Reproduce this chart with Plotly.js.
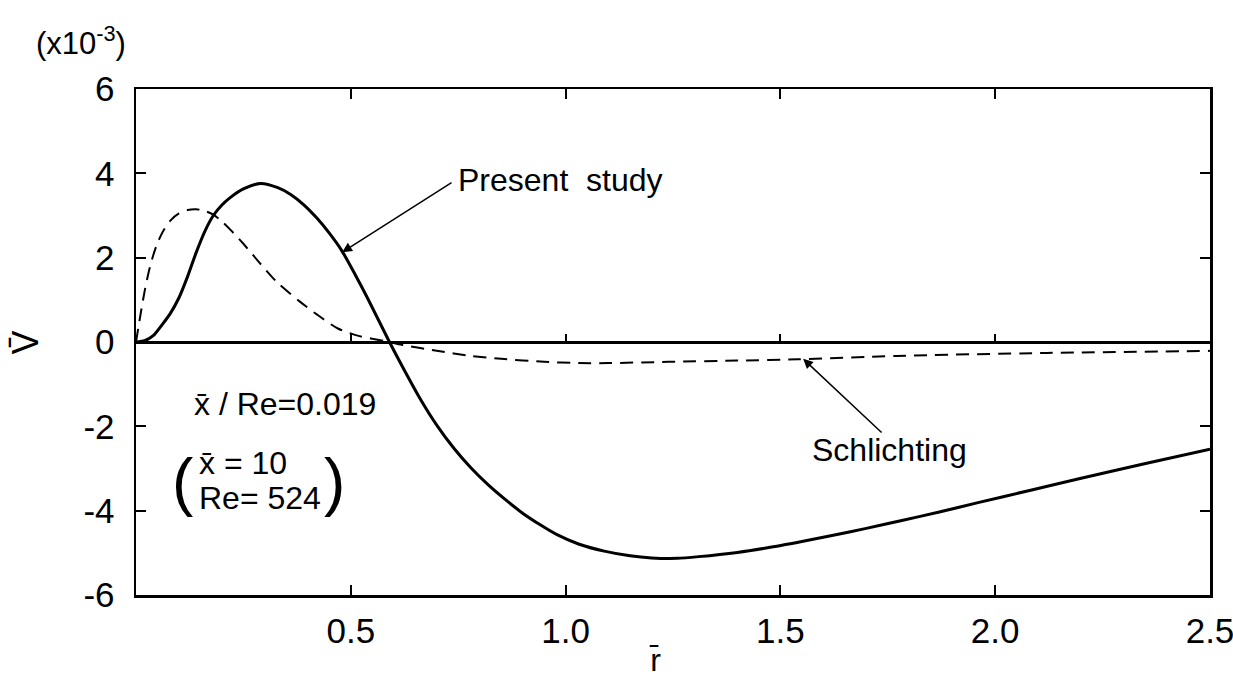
<!DOCTYPE html>
<html>
<head>
<meta charset="utf-8">
<script src="https://cdn.plot.ly/plotly-3.0.1.min.js"></script>
<style>html,body{margin:0;padding:0;background:#fff;}#chart{width:1233px;height:683px;}</style>
</head>
<body>
<div id="chart"></div>
<script>
// Present study (solid)
const rPresent = [0, 0.02, 0.04, 0.06, 0.08, 0.10, 0.12, 0.14, 0.16, 0.18, 0.20, 0.22, 0.25, 0.29, 0.33, 0.36, 0.39, 0.42, 0.45, 0.48, 0.51, 0.54, 0.59, 0.62, 0.66, 0.70, 0.74, 0.78, 0.82, 0.86, 0.90, 0.94, 0.98, 1.03, 1.09, 1.15, 1.20, 1.26, 1.31, 1.40, 1.47, 1.55, 1.62, 1.70, 1.78, 1.87, 1.96, 2.08, 2.20, 2.35, 2.50];
const vPresent = [0, 0.03, 0.15, 0.40, 0.68, 1.05, 1.55, 2.12, 2.62, 3.00, 3.25, 3.43, 3.63, 3.76, 3.66, 3.50, 3.26, 2.95, 2.58, 2.15, 1.60, 1.02, 0.0, -0.58, -1.32, -1.97, -2.52, -2.99, -3.39, -3.74, -4.06, -4.33, -4.57, -4.79, -4.96, -5.07, -5.12, -5.13, -5.09, -4.99, -4.88, -4.73, -4.59, -4.42, -4.24, -4.03, -3.81, -3.52, -3.23, -2.88, -2.54];
// Schlichting (dashed)
const rSchl = [0, 0.01, 0.02, 0.03, 0.04, 0.05, 0.065, 0.08, 0.10, 0.12, 0.14, 0.16, 0.18, 0.20, 0.22, 0.25, 0.29, 0.33, 0.38, 0.42, 0.47, 0.52, 0.58, 0.62, 0.70, 0.78, 0.85, 0.95, 1.03, 1.10, 1.24, 1.40, 1.54, 1.77, 2.12, 2.50];
const vSchl = [0, 0.62, 1.20, 1.68, 2.05, 2.35, 2.66, 2.88, 3.05, 3.13, 3.15, 3.11, 3.02, 2.86, 2.66, 2.33, 1.85, 1.40, 0.97, 0.66, 0.32, 0.14, 0.02, -0.07, -0.21, -0.33, -0.40, -0.47, -0.50, -0.50, -0.47, -0.44, -0.41, -0.33, -0.26, -0.21];

const xTickVals = [0.5, 1.0, 1.5, 2.0, 2.5];
const xTickText = ['0.5', '1.0', '1.5', '2.0', '2.5'];
const yTickVals = [-6, -4, -2, 0, 2, 4, 6];
const yTickText = ['-6', '-4', '-2', '0', '2', '4', '6'];

const NUM = 'Liberation Sans, Arial, sans-serif';

const traces = [
  {x: rSchl, y: vSchl, type: 'scatter', mode: 'lines', name: 'Schlichting',
   line: {color: '#000', width: 2, dash: '13px,8px', shape: 'spline', smoothing: 0.7}},
  {x: rPresent, y: vPresent, type: 'scatter', mode: 'lines', name: 'Present study',
   line: {color: '#000', width: 3, shape: 'spline', smoothing: 0.7}}
];

const txt = (x, y, text, size, extra) => Object.assign({
  x: x, y: y, xref: 'x', yref: 'y', text: text, showarrow: false,
  xanchor: 'left', yanchor: 'middle', font: {family: NUM, size: size, color: '#000'}
}, extra || {});

const arrow = (hx, hy, tx, ty) => ({
  x: hx, y: hy, ax: tx, ay: ty, xref: 'x', yref: 'y', axref: 'x', ayref: 'y',
  text: '', showarrow: true, arrowhead: 2, arrowsize: 1.3, arrowwidth: 1.5,
  arrowcolor: '#000', standoff: 0, startstandoff: 0
});

const annotations = [
  txt(0.745, 3.84, 'Present  study', 32),
  arrow(0.48, 2.13, 0.738, 3.80),
  txt(1.569, -2.56, 'Schlichting', 32),
  arrow(1.553, -0.40, 1.739, -2.18),
  txt(0.130, -1.47, 'x\u0304 / Re=0.019', 32),
  txt(0.142, -2.87, 'x\u0304 = 10', 32),
  txt(0.142, -3.70, 'Re= 524', 32),
  txt(0.109, -3.32, '(', 64, {xanchor: 'center'}),
  txt(0.463, -3.32, ')', 64, {xanchor: 'center'}),
  {x: -0.051, y: 1.095, xref: 'paper', yref: 'paper', text: '(x10<sup>-3</sup>)', showarrow: false,
   xanchor: 'center', yanchor: 'middle', font: {family: NUM, size: 31, color: '#000'}},
  {x: -0.103, y: 0.5, xref: 'paper', yref: 'paper', text: 'V\u0304', textangle: -90, showarrow: false,
   xanchor: 'center', yanchor: 'middle', font: {family: NUM, size: 36, color: '#000'}},
  {x: 0.483, y: -0.128, xref: 'paper', yref: 'paper', text: 'r\u0304', showarrow: false,
   xanchor: 'center', yanchor: 'middle', font: {family: NUM, size: 32, color: '#000'}}
];

const layout = {
  width: 1233, height: 683,
  margin: {l: 136, r: 23, t: 89, b: 88},
  paper_bgcolor: '#fff', plot_bgcolor: '#fff',
  showlegend: false,
  xaxis: {
    range: [0, 2.5], tickvals: xTickVals, ticktext: xTickText,
    ticks: 'inside', ticklen: 10, tickwidth: 2, tickcolor: '#000',
    showline: true, linewidth: 2.5, linecolor: '#000', mirror: 'ticks',
    showgrid: false, zeroline: false, ticklabelstandoff: 3, ticklabeloverflow: 'allow',
    tickfont: {family: NUM, size: 35, color: '#000'}
  },
  xaxis2: {
    range: [0, 2.5], tickvals: xTickVals, overlaying: 'x', anchor: 'free', position: 0.5, side: 'bottom',
    ticks: 'inside', ticklen: 8, tickwidth: 2, tickcolor: '#000',
    showline: false, showgrid: false, zeroline: false, showticklabels: false
  },
  yaxis: {
    range: [-6, 6], tickvals: yTickVals, ticktext: yTickText,
    ticks: 'inside', ticklen: 10, tickwidth: 2, tickcolor: '#000',
    showline: true, linewidth: 2.5, linecolor: '#000', mirror: 'ticks',
    showgrid: false, zeroline: true, zerolinewidth: 3, zerolinecolor: '#000',
    ticklabelstandoff: 12,
    tickfont: {family: NUM, size: 35, color: '#000'}
  },
  annotations: annotations
};

// invisible point so the zero-line tick axis (xaxis2) is drawn
traces.push({x: [0], y: [0], xaxis: 'x2', yaxis: 'y', mode: 'markers', marker: {opacity: 0}, hoverinfo: 'skip', showlegend: false});

Plotly.newPlot('chart', traces, layout, {staticPlot: true});
</script>
</body>
</html>
